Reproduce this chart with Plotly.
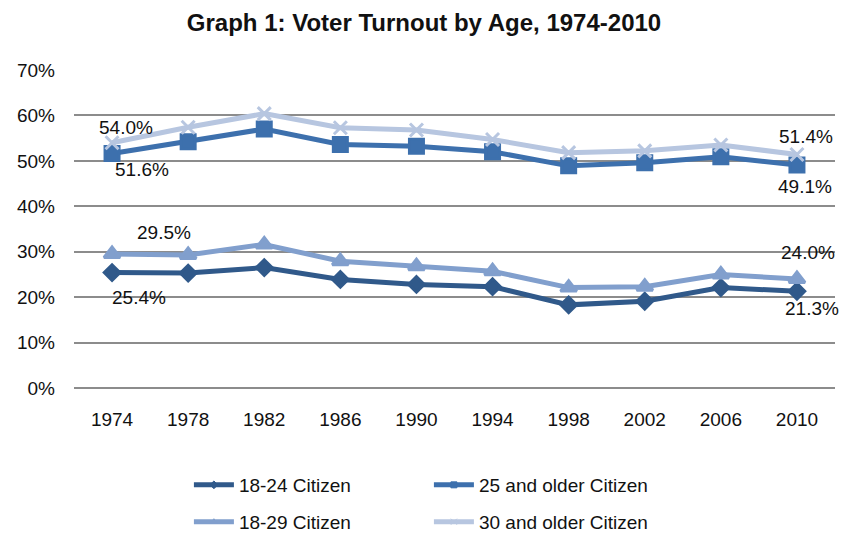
import plotly.graph_objects as go

years = ["1974", "1978", "1982", "1986", "1990", "1994", "1998", "2002", "2006", "2010"]
s_18_24 = [25.4, 25.3, 26.5, 23.9, 22.8, 22.3, 18.3, 19.1, 22.1, 21.3]
s_25_up = [51.6, 54.2, 57.0, 53.6, 53.2, 52.0, 48.9, 49.6, 50.9, 49.1]
s_18_29 = [29.5, 29.3, 31.6, 27.9, 26.8, 25.7, 22.1, 22.3, 25.0, 24.0]
s_30_up = [54.0, 57.4, 60.4, 57.3, 56.8, 54.7, 51.8, 52.2, 53.5, 51.4]
y_ticks = [0, 10, 20, 30, 40, 50, 60, 70]
y_tick_text = ["0%", "10%", "20%", "30%", "40%", "50%", "60%", "70%"]

FONT = "Liberation Sans, Arial, sans-serif"

series = [
    ("18-24 Citizen", s_18_24, "#30598a", "diamond", 12, "legend"),
    ("25 and older Citizen", s_25_up, "#3d70ad", "square", 14, "legend"),
    ("18-29 Citizen", s_18_29, "#819fcd", "triangle-up", 14, "legend2"),
    ("30 and older Citizen", s_30_up, "#b7c6e0", "x-thin", 13, "legend2"),
]

fig = go.Figure()
for name, vals, col, sym, sz, lg in series:
    fig.add_trace(go.Scatter(
        x=years, y=vals, name=name, mode="lines+markers", showlegend=False,
        line=dict(color=col, width=5),
        marker=dict(symbol=sym, size=sz, color=col, line=dict(color=col, width=3)),
    ))
for name, vals, col, sym, sz, lg in series:
    fig.add_trace(go.Scatter(
        x=[None], y=[None], name=name, mode="lines+markers", legend=lg,
        line=dict(color=col, width=5),
        marker=dict(symbol=sym, size=6, color=col, line=dict(color=col, width=1)),
    ))

# data labels (first and last points)
labels = [
    (s_30_up, 0, 14, 15),
    (s_25_up, 0, 30, -16),
    (s_18_29, 0, 52, 21),
    (s_18_24, 0, 27, -25),
    (s_30_up, 9, 9, 18),
    (s_25_up, 9, 8, -22),
    (s_18_29, 9, 11, 26),
    (s_18_24, 9, 15, -17),
]
for vals, i, dx, dy in labels:
    fig.add_annotation(x=i, y=vals[i], xref="x", yref="y", text=f"{vals[i]:.1f}%",
                       showarrow=False, xshift=dx, yshift=dy,
                       font=dict(family=FONT, size=19, color="#111111"))

leg_common = dict(orientation="h", xanchor="left", yanchor="middle",
                  entrywidth=185, entrywidthmode="pixels", itemwidth=40,
                  bgcolor="rgba(0,0,0,0)", font=dict(family=FONT, size=19, color="#111111"))

fig.update_layout(
    width=843, height=535,
    margin=dict(l=74, r=8, t=70, b=147, autoexpand=False),
    paper_bgcolor="white", plot_bgcolor="white",
    title=dict(text="<b>Graph 1: Voter Turnout by Age, 1974-2010</b>", x=0.503, xanchor="center",
               y=0.958, yanchor="middle", font=dict(family=FONT, size=24, color="#111111")),
    font=dict(family=FONT, size=19, color="#111111"),
    showlegend=True,
    legend=dict(x=0.151, y=-0.305, **leg_common),
    legend2=dict(x=0.151, y=-0.421, **leg_common),
)
fig.update_xaxes(type="category", range=[-0.5, 9.5], showgrid=False, showline=False,
                 ticks="", ticklabelstandoff=18, tickfont=dict(family=FONT, size=19))
fig.update_yaxes(range=[0, 70], tickvals=y_ticks, ticktext=y_tick_text, showgrid=True,
                 gridcolor="#8c8c8c", gridwidth=2, zeroline=True, zerolinecolor="#8c8c8c",
                 zerolinewidth=2, showline=False, ticks="", ticklabelstandoff=18,
                 tickfont=dict(family=FONT, size=19))

fig.write_html("out.html")
